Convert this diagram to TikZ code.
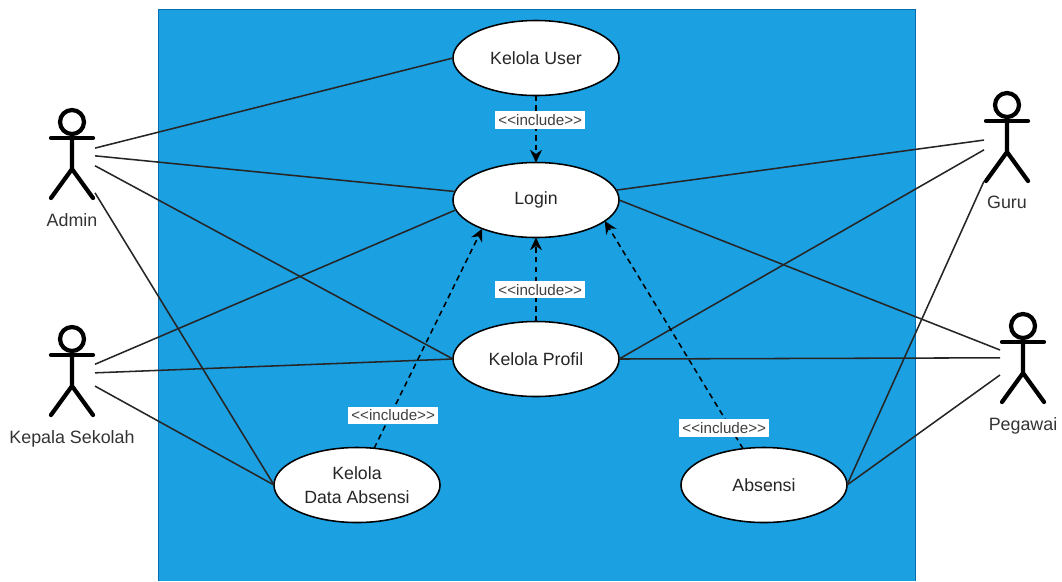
\documentclass[tikz,border=0pt]{standalone}
\usepackage{fontspec}
\setmainfont{Liberation Sans}
\usepackage{pgf,tikz}
\usetikzlibrary{positioning,arrows.meta,shapes.geometric}
\definecolor{sysblue}{HTML}{1BA0E2}
\definecolor{sysedge}{HTML}{006EAF}
\newcommand{\incltext}{{<}{<}include{>}{>}}
\tikzset{
	usecase/.style={draw=black,fill=white,ellipse,line width=1.1pt,minimum width=4.15cm,minimum height=1.875cm,inner sep=0pt,outer sep=0pt,align=center,font=\fontsize{12.6}{17}\selectfont,text=black!85},
	actorbox/.style={minimum width=1.15cm,minimum height=2.3cm,inner sep=0pt,outer sep=0pt},
	actorline/.style={line width=3pt,line cap=round},
	actortext/.style={inner sep=0pt,font=\fontsize{12.7}{15}\selectfont,text=black!80},
	assoc/.style={line width=1.1pt,black!85},
	incl/.style={line width=1.1pt,dashed,dash pattern=on 4pt off 3pt,-{Stealth[length=9pt,width=8.5pt]}},
	incllabel/.style={fill=white,inner sep=2.3pt,font=\fontsize{10.8}{12}\selectfont,text=black!75}
}
\newcommand{\actorfig}[4]{
	\node[actorbox] (#1) at (#2,#3) {};
	\begin{scope}[shift={(#1.center)}]
		\draw[actorline] (0,-31) circle (12);
		\draw[actorline] (-21,-15) -- (21,-15);
		\draw[actorline] (0,-19) -- (0,16) (-21,45) -- (0,16) -- (21,45);
	\end{scope}
	\node[actortext,below=10pt of #1] (#1text) {#4};
}
\begin{document}
\begin{tikzpicture}[x=0.025cm,y=-0.025cm]
	\useasboundingbox (0,0) rectangle (1062,581);
	\fill[sysblue] (158,9) rectangle (915,581);
	\draw[sysedge,line width=0.6pt] (158,581) -- (158,9) -- (915,9) -- (915,581);
	\node[usecase] (user) at (536,58) {Kelola User};
	\node[usecase] (login) at (536,200) {Login};
	\node[usecase] (profil) at (536,359) {Kelola Profil};
	\node[usecase] (data) at (357,485) {Kelola\\Data Absensi};
	\node[usecase] (absensi) at (764,485) {Absensi};
	\actorfig{admin}{72}{153}{Admin}
	\actorfig{kepala}{72}{370}{Kepala Sekolah}
	\actorfig{guru}{1007}{136}{Guru}
	\actorfig{pegawai}{1023}{357}{Pegawai}
	\draw[assoc] (admin.12) -- (user.west);
	\draw[assoc] (admin.-7) -- (login.174);
	\draw[assoc] (admin.-29) -- (profil.west);
	\draw[assoc] (admin.-60) -- (data.west);
	\draw[assoc] (kepala.14) -- (login.187);
	\draw[assoc] (kepala.-7) -- (profil.west);
	\draw[assoc] (kepala.-35) -- (data.west);
	\draw[assoc] (guru.190) -- (login.7);
	\draw[assoc] (guru.211) -- (profil.east);
	\draw[assoc] (guru.243) -- (absensi.east);
	\draw[assoc] (pegawai.163) -- (login.east);
	\draw[assoc] (pegawai.182) -- (profil.east);
	\draw[assoc] (pegawai.218) -- (absensi.east);
	\draw[incl] (user.south) -- (login.north) node[pos=0.37,incllabel,xshift=3pt] {\incltext};
	\draw[incl] (profil.north) -- (login.south) node[pos=0.38,incllabel,xshift=3pt] {\incltext};
	\draw[incl] (data.65) -- (login.208) node[pos=0.15,incllabel,xshift=2pt] {\incltext};
	\draw[incl] (absensi.120) -- (login.343) node[pos=0.09,incllabel,xshift=-4.5pt] {\incltext};
\end{tikzpicture}
\end{document}
